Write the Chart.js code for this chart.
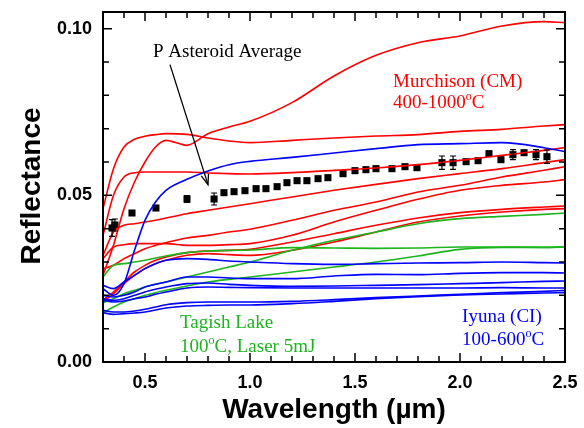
<!DOCTYPE html>
<html><head><meta charset="utf-8">
<script src="https://cdn.jsdelivr.net/npm/chart.js@4.4.0/dist/chart.umd.min.js"></script>
<style>html,body{margin:0;padding:0;background:#fff}</style>
</head><body>
<canvas id="c" width="584" height="428"></canvas>
<script>
// shared wavelength grid (µm)
const wl = [0.30,0.35,0.40,0.45,0.50,0.55,0.60,0.70,0.80,0.90,1.00,1.20,1.40,1.60,1.80,2.00,2.20,2.40,2.50];

// Murchison (CM) 400-1000 C  (red)
const cmTop = [0.026,0.035,0.046,0.054,0.060,0.0645,0.0665,0.065,0.0685,0.0705,0.0722,0.0778,0.0858,0.092,0.0958,0.0978,0.1008,0.1021,0.1018];
const cm1   = [0.046,0.058,0.0645,0.0668,0.0677,0.0682,0.0685,0.0683,0.0672,0.0663,0.0658,0.0665,0.0672,0.0678,0.0682,0.0692,0.0698,0.0708,0.0712];
const cm2   = [0.038,0.050,0.0555,0.0568,0.057,0.057,0.057,0.057,0.0567,0.0565,0.0564,0.0568,0.0575,0.0582,0.0592,0.0605,0.062,0.0635,0.0643];
const cm3   = [0.032,0.039,0.041,0.0415,0.042,0.0425,0.0432,0.0445,0.0455,0.0465,0.0475,0.0495,0.0515,0.0533,0.055,0.0565,0.058,0.0598,0.0607];
const cm4   = [0.028,0.029,0.031,0.0325,0.034,0.035,0.0358,0.0372,0.038,0.039,0.0398,0.0425,0.0455,0.048,0.051,0.053,0.0555,0.0575,0.0586];
const cm5   = [0.031,0.0345,0.0352,0.0355,0.0355,0.0355,0.0355,0.035,0.035,0.0352,0.0355,0.038,0.042,0.0455,0.0488,0.0515,0.053,0.054,0.0547];
const cm6   = [0.0186,0.021,0.024,0.027,0.029,0.0305,0.0315,0.0328,0.0333,0.0335,0.0338,0.036,0.0385,0.041,0.0432,0.0448,0.0458,0.0465,0.0468];
const cm7   = [0.018,0.0205,0.0235,0.026,0.028,0.0295,0.0305,0.032,0.0325,0.0322,0.032,0.0335,0.036,0.039,0.042,0.0438,0.045,0.0458,0.046];

// Iyuna (CI) 100-600 C  (blue)
const ciTop = [0.022,0.020,0.0235,0.0335,0.0425,0.048,0.0515,0.0548,0.0573,0.0592,0.0602,0.0614,0.0627,0.064,0.0652,0.0655,0.0658,0.0643,0.0631];
const ci1   = [0.023,0.022,0.024,0.026,0.028,0.0295,0.0305,0.031,0.0308,0.0303,0.030,0.0295,0.0293,0.0295,0.0297,0.0298,0.030,0.0298,0.0297];
const ci2   = [0.020,0.0195,0.020,0.021,0.0225,0.0233,0.024,0.0255,0.0255,0.0252,0.025,0.025,0.0258,0.0263,0.0262,0.0266,0.0268,0.0268,0.0267];
const ci3   = [0.019,0.0185,0.019,0.020,0.021,0.0218,0.0225,0.0235,0.0237,0.0233,0.023,0.0227,0.0228,0.023,0.0232,0.0235,0.0238,0.0242,0.0243];
const ci4   = [0.0185,0.018,0.0183,0.019,0.0195,0.0203,0.021,0.0222,0.0225,0.0224,0.0223,0.0222,0.0222,0.0222,0.0222,0.0222,0.0223,0.0222,0.0222];
const ci5   = [0.0155,0.015,0.015,0.0153,0.0158,0.0165,0.0172,0.0178,0.018,0.018,0.018,0.0182,0.0187,0.0193,0.0198,0.0203,0.0208,0.0212,0.0215];
const ci6   = [0.0148,0.0143,0.0145,0.0147,0.015,0.0156,0.0162,0.0168,0.017,0.0171,0.0171,0.0175,0.0182,0.019,0.0196,0.0201,0.0204,0.0207,0.0208];

// Tagish Lake 100 C, laser 5mJ  (green)
const tl1 = [0.0255,0.029,0.0295,0.030,0.0305,0.0312,0.0318,0.0328,0.0333,0.0335,0.0336,0.0343,0.0342,0.0341,0.0342,0.0345,0.0345,0.0344,0.0345];
const tl2 = [0.0177,0.019,0.0205,0.0215,0.0225,0.0233,0.024,0.0255,0.027,0.0285,0.030,0.0335,0.0365,0.039,0.0415,0.043,0.0437,0.0443,0.0447];
const tl3 = [0.0147,0.0165,0.018,0.019,0.020,0.0208,0.0215,0.0228,0.024,0.0248,0.0255,0.027,0.0285,0.030,0.0318,0.0338,0.0344,0.0344,0.0345];

// P asteroid average
const pWave = [0.343,0.357,0.438,0.552,0.700,0.829,0.876,0.924,0.976,1.029,1.076,1.129,1.176,1.224,1.271,1.324,1.371,1.443,1.500,1.552,1.600,1.676,1.738,1.795,1.914,1.967,2.029,2.086,2.138,2.195,2.252,2.305,2.362,2.414];
const pRefl = [0.0402,0.0411,0.0447,0.0462,0.0489,0.0489,0.0508,0.0511,0.0514,0.0520,0.0520,0.0526,0.0538,0.0544,0.0544,0.0550,0.0553,0.0565,0.0574,0.0577,0.0580,0.0580,0.0586,0.0583,0.0598,0.0598,0.0601,0.0604,0.0625,0.0607,0.0622,0.0628,0.0622,0.0616];
const pErr  = [0.0025,0.0018,0,0,0.001,0.0018,0,0,0,0,0,0,0,0,0,0,0,0,0,0,0,0,0,0,0.002,0.002,0,0,0,0,0.0015,0,0.0015,0.002];

const RED='#ff0000', BLUE='#0000ff', GREEN='#1db41d';
const toXY = ys => ys.map((v,i)=>({x:wl[i], y:v}));
const line = (ys,c) => ({data:toXY(ys), borderColor:c, borderWidth:1.6, pointRadius:0, fill:false, cubicInterpolationMode:'monotone'});

const datasets = [
  ...[ci1,ci2,ci3,ci4,ci5,ci6,ciTop].map(s=>line(s,BLUE)),
  ...[tl1,tl2,tl3].map(s=>line(s,GREEN)),
  ...[cmTop,cm1,cm2,cm3,cm4,cm5,cm6,cm7].map(s=>line(s,RED)),
  {data:pWave.map((w,i)=>({x:w,y:pRefl[i]})), showLine:false, pointStyle:'rect', pointRadius:5,
   backgroundColor:'#000', borderColor:'#000', borderWidth:0}
];

function supText(ctx, parts, x, y, size){
  ctx.font = size+'px "Liberation Serif"';
  ctx.fillText(parts[0], x, y);
  let w = ctx.measureText(parts[0]).width;
  ctx.font = Math.round(size*0.62)+'px "Liberation Serif"';
  ctx.fillText(parts[1], x+w, y-size*0.42);
  w += ctx.measureText(parts[1]).width;
  ctx.font = size+'px "Liberation Serif"';
  ctx.fillText(parts[2], x+w, y);
}

const overlay = {
  id:'overlay',
  afterDraw(chart){
    const {ctx, chartArea:a, scales:{x,y}} = chart;
    ctx.save();
    ctx.strokeStyle='#000'; ctx.lineWidth=1.2;
    pWave.forEach((w,i)=>{
      if(!pErr[i]) return;
      const px=x.getPixelForValue(w), y1=y.getPixelForValue(pRefl[i]-pErr[i]), y2=y.getPixelForValue(pRefl[i]+pErr[i]);
      ctx.beginPath();
      ctx.moveTo(px,y1); ctx.lineTo(px,y2);
      ctx.moveTo(px-3,y1); ctx.lineTo(px+3,y1);
      ctx.moveTo(px-3,y2); ctx.lineTo(px+3,y2);
      ctx.stroke();
    });
    ctx.lineWidth=2; ctx.strokeStyle='#000';
    ctx.strokeRect(a.left, a.top, a.right-a.left, a.bottom-a.top);
    ctx.lineWidth=1.5;
    ctx.beginPath();
    for(let i=1;i<=10;i++){
      const py=y.getPixelForValue(i/100), L=(i%5===0)?9:6;
      ctx.moveTo(a.left,py); ctx.lineTo(a.left+L,py);
      ctx.moveTo(a.right,py); ctx.lineTo(a.right-L,py);
    }
    for(let i=4;i<=24;i++){
      const px=x.getPixelForValue(i/10), L=(i%5===0)?9:6;
      ctx.moveTo(px,a.bottom); ctx.lineTo(px,a.bottom-L);
      ctx.moveTo(px,a.top); ctx.lineTo(px,a.top+L);
    }
    ctx.stroke();
    const ax0=x.getPixelForValue(0.619), ay0=y.getPixelForValue(0.0892);
    const ax1=x.getPixelForValue(0.800), ay1=y.getPixelForValue(0.0532);
    ctx.lineWidth=1.3;
    ctx.beginPath(); ctx.moveTo(ax0,ay0); ctx.lineTo(ax1,ay1); ctx.stroke();
    const ang=Math.atan2(ay1-ay0, ax1-ax0), hl=11, hw=0.35;
    ctx.beginPath();
    ctx.moveTo(ax1-hl*Math.cos(ang-hw), ay1-hl*Math.sin(ang-hw));
    ctx.lineTo(ax1,ay1);
    ctx.lineTo(ax1-hl*Math.cos(ang+hw), ay1-hl*Math.sin(ang+hw));
    ctx.stroke();
    ctx.textAlign='left'; ctx.textBaseline='alphabetic';
    ctx.fillStyle='#000'; ctx.font='19px "Liberation Serif"';
    ctx.fillText('P Asteroid Average', x.getPixelForValue(0.538), y.getPixelForValue(0.0916));
    ctx.fillStyle=RED;
    ctx.font='19px "Liberation Serif"';
    ctx.fillText('Murchison (CM)', x.getPixelForValue(1.681), y.getPixelForValue(0.0826));
    supText(ctx, ['400-1000','o','C'], x.getPixelForValue(1.681), y.getPixelForValue(0.0763), 19);
    ctx.fillStyle=GREEN;
    ctx.font='19px "Liberation Serif"';
    ctx.fillText('Tagish Lake', x.getPixelForValue(0.667), y.getPixelForValue(0.0102));
    supText(ctx, ['100','o','C, Laser 5mJ'], x.getPixelForValue(0.667), y.getPixelForValue(0.0030), 19);
    ctx.fillStyle=BLUE;
    ctx.font='19px "Liberation Serif"';
    ctx.fillText('Iyuna (CI)', x.getPixelForValue(2.010), y.getPixelForValue(0.0120));
    supText(ctx, ['100-600','o','C'], x.getPixelForValue(2.010), y.getPixelForValue(0.0051), 19);
    ctx.fillStyle='#000';
    ctx.font='bold 28px "Liberation Sans"';
    ctx.textAlign='center';
    ctx.fillText('Wavelength (\u00b5m)', (a.left+a.right)/2, 418);
    ctx.save();
    ctx.translate(40, 186);
    ctx.rotate(-Math.PI/2);
    ctx.fillText('Reflectance', 0, 0);
    ctx.restore();
    ctx.restore();
  }
};

const zeroPad = s => { s.paddingTop=0; s.paddingBottom=0; s.paddingLeft=0; s.paddingRight=0; };

Chart.defaults.font.family='"Liberation Sans", Arial, sans-serif';
new Chart(document.getElementById('c'), {
  type:'line',
  data:{datasets},
  options:{
    responsive:false, animation:false, devicePixelRatio:1,
    layout:{padding:{left:0, top:12, right:19, bottom:0}},
    plugins:{legend:{display:false}, tooltip:{enabled:false}},
    scales:{
      x:{type:'linear', min:0.3, max:2.5,
        grid:{display:false, drawTicks:false}, border:{display:false},
        afterFit:s=>{s.height=66; zeroPad(s);},
        afterBuildTicks:s=>{s.ticks=[0.5,1.0,1.5,2.0,2.5].map(v=>({value:v}));},
        ticks:{padding:10, color:'#000', font:{size:18, weight:'bold'}, maxRotation:0,
          callback:v=>v.toFixed(1)}},
      y:{type:'linear', min:0, max:0.105,
        grid:{display:false, drawTicks:false}, border:{display:false},
        afterFit:s=>{s.width=103; zeroPad(s);},
        afterBuildTicks:s=>{s.ticks=[0,0.05,0.10].map(v=>({value:v}));},
        ticks:{padding:11, color:'#000', font:{size:18, weight:'bold'},
          callback:v=>v.toFixed(2)}}
    }
  },
  plugins:[overlay]
});
</script>
</body></html>
